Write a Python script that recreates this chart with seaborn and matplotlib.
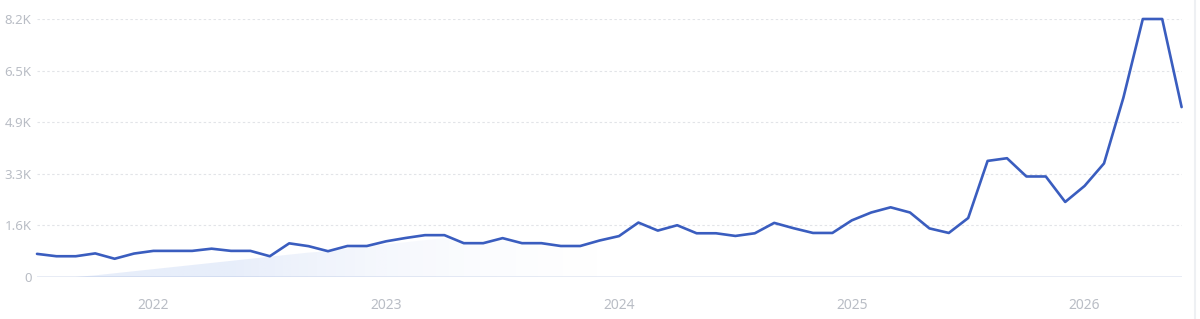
import numpy as np
import pandas as pd
import matplotlib
matplotlib.use("Agg")
import matplotlib.pyplot as plt
from matplotlib.lines import Line2D
import seaborn as sns

# ---- data (monthly, Jul 2021 - Jun 2026) ----
month_index = list(range(60))
values = [735, 660, 660, 750, 580, 745, 830, 830, 830, 900,
          830, 830, 660, 1070, 980, 820, 985, 985, 1135, 1240,
          1330, 1330, 1075, 1075, 1235, 1075, 1075, 985, 985, 1160,
          1300, 1730, 1475, 1645, 1390, 1390, 1305, 1390, 1720, 1550,
          1400, 1400, 1800, 2050, 2215, 2050, 1545, 1400, 1875, 3690,
          3775, 3195, 3195, 2385, 2895, 3610, 5700, 8200, 8200, 5400]
ytick_values = [0, 1640, 3280, 4920, 6560, 8200]
ytick_labels = ["0", "1.6K", "3.3K", "4.9K", "6.5K", "8.2K"]
xtick_positions = [6, 18, 30, 42, 54]
xtick_labels = ["2022", "2023", "2024", "2025", "2026"]

df = pd.DataFrame({"month": month_index, "value": values})

sns.set_style("white")
plt.rcParams["font.family"] = ["Noto Sans", "DejaVu Sans"]

fig = plt.figure(figsize=(12, 3.19), dpi=100)
ax = fig.add_axes([37 / 1200, 1 - 277 / 319, (1181.6 - 37) / 1200, (277 - 19) / 319])

line_color = "#3a5dbf"
x_max = month_index[-1]
y_max = ytick_values[-1]

# faint gradient area under the line (diagonal wedge, fading to the right)
x_arr = np.array(month_index, dtype=float)
v_arr = np.array(values, dtype=float)
ramp = 65.8 * (x_arr - 2.2)
top = np.clip(np.minimum(v_arr, ramp), 0, None)
poly = ax.fill_between(x_arr, 0, top, facecolor="none", edgecolor="none")
nx = 600
xs = np.linspace(0, x_max, nx)
t = np.clip((xs - 10) / (33 - 10), 0, 1)
fade = (1 - t) ** 2
rgba = np.zeros((2, nx, 4))
rgba[..., 0] = 59 / 255
rgba[..., 1] = 111 / 255
rgba[..., 2] = 216 / 255
rgba[..., 3] = 0.12 * fade[None, :]
im = ax.imshow(rgba, extent=[0, x_max, 0, y_max], aspect="auto",
               origin="lower", zorder=1, interpolation="bilinear")
im.set_clip_path(poly.get_paths()[0], ax.transData)

# gridlines
for yv in ytick_values[1:]:
    ax.axhline(yv, color="#e2e4e8", lw=0.8, ls=(0, (2.2, 2.2)), zorder=0)
ax.axhline(0, color="#e4e9f3", lw=1.2, zorder=0)

sns.lineplot(data=df, x="month", y="value", ax=ax, color=line_color,
             lw=1.9, zorder=3, clip_on=False)

ax.set_xlim(0, x_max)
ax.set_ylim(0, y_max)
ax.set_yticks(ytick_values)
ax.set_yticklabels(ytick_labels)
ax.set_xticks(xtick_positions)
ax.set_xticklabels(xtick_labels)
ax.tick_params(axis="y", length=0, pad=4, labelsize=9.5, labelcolor="#b9bdc5")
ax.tick_params(axis="x", length=0, pad=15, labelsize=10, labelcolor="#b9bdc5")
ax.set_xlabel("")
ax.set_ylabel("")
for s in ax.spines.values():
    s.set_visible(False)
ax.patch.set_alpha(0)

fig.add_artist(Line2D([1195 / 1200, 1195 / 1200], [0, 1], color="#eef0f3", lw=1.5,
                      transform=fig.transFigure))

fig.savefig("out.png", dpi=100, facecolor="white")
